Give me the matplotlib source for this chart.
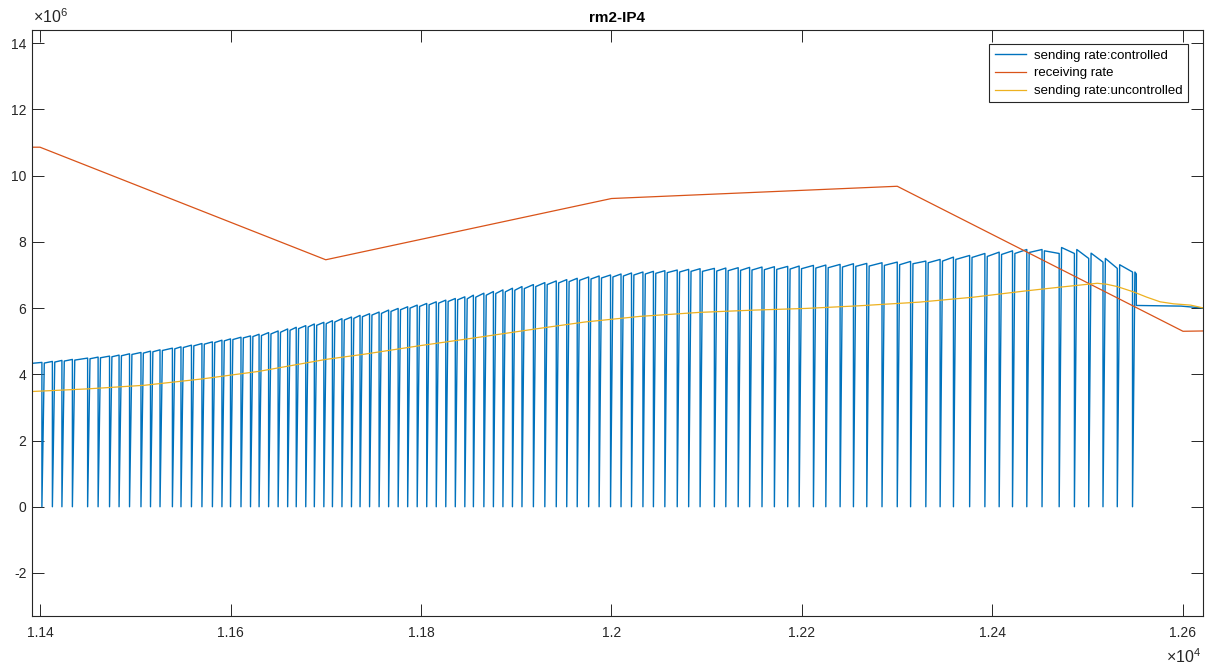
import matplotlib
matplotlib.use("Agg")
import matplotlib.pyplot as plt
from matplotlib.ticker import FixedLocator, FixedFormatter

plt.rcParams['font.family'] = ['Liberation Sans', 'DejaVu Sans']
plt.rcParams['mathtext.fontset'] = 'custom'
plt.rcParams['mathtext.rm'] = 'Liberation Sans'
plt.rcParams['axes.unicode_minus'] = False

# ---- data (time in s, rates in units of 1e6) ----
# controlled sending rate: times where the rate drops to zero
drop_t = [
    11402, 11413, 11423, 11434, 11450, 11461, 11473, 11483, 11494, 11506, 11516,
    11526, 11539, 11548, 11559, 11570, 11581, 11591, 11600, 11611, 11621, 11630,
    11640, 11650, 11660, 11669, 11679, 11688, 11698, 11707, 11717, 11727, 11736,
    11746, 11756, 11766, 11776, 11786, 11796, 11806, 11816, 11826, 11836, 11846,
    11855, 11866, 11876, 11886, 11896, 11906, 11918, 11930, 11942, 11953, 11964,
    11976, 11987, 11999, 12010, 12021, 12033, 12044, 12056, 12069, 12081, 12093,
    12108, 12120, 12133, 12145, 12158, 12171, 12185, 12197, 12212, 12225, 12240,
    12254, 12268, 12284, 12300, 12314,
    12330, 12345, 12359, 12376, 12392, 12407, 12421, 12436, 12452, 12470, 12486,
    12501, 12516, 12531, 12547,
]
# rate at the start / end of each sending period (period k ends at drop_t[k])
seg_start = [
    4.33,
    4.34, 4.37, 4.40, 4.43, 4.47, 4.50, 4.53, 4.56, 4.60, 4.64, 4.68,
    4.72, 4.77, 4.81, 4.86, 4.91, 4.96, 5.01, 5.05, 5.10, 5.14,
    5.17, 5.22, 5.27, 5.33, 5.38, 5.43, 5.48, 5.53, 5.58, 5.64, 5.69,
    5.74, 5.79, 5.84, 5.90, 5.95, 6.00, 6.05, 6.10, 6.15, 6.20, 6.25,
    6.28, 6.33, 6.39, 6.44, 6.49, 6.54, 6.59, 6.65, 6.71, 6.76, 6.80,
    6.84, 6.88, 6.91, 6.94, 6.97, 7.00, 7.03, 7.05, 7.07, 7.09, 7.11,
    7.11, 7.12, 7.13, 7.14, 7.15, 7.16, 7.17, 7.18, 7.19, 7.21, 7.22,
    7.24, 7.26, 7.27, 7.29, 7.31,
    7.34, 7.37, 7.42, 7.47, 7.53, 7.56, 7.62, 7.65, 7.68, 7.73, 7.83,
    7.77, 7.66, 7.50, 7.31,
]
seg_end = [
    4.36,
    4.39, 4.42, 4.45, 4.49, 4.52, 4.55, 4.58, 4.62, 4.66, 4.70, 4.74,
    4.79, 4.83, 4.88, 4.93, 4.98, 5.03, 5.07, 5.12, 5.16, 5.21,
    5.26, 5.31, 5.37, 5.42, 5.47, 5.52, 5.57, 5.62, 5.68, 5.73, 5.78,
    5.83, 5.88, 5.94, 5.99, 6.04, 6.09, 6.14, 6.19, 6.24, 6.29, 6.34,
    6.39, 6.45, 6.50, 6.55, 6.60, 6.65, 6.71, 6.77, 6.82, 6.86, 6.90,
    6.94, 6.97, 7.00, 7.03, 7.06, 7.09, 7.11, 7.13, 7.15, 7.17, 7.19,
    7.20, 7.21, 7.22, 7.23, 7.24, 7.25, 7.26, 7.27, 7.29, 7.30, 7.32,
    7.34, 7.35, 7.37, 7.39, 7.41,
    7.42, 7.47, 7.54, 7.59, 7.65, 7.69, 7.73, 7.77, 7.77, 7.65, 7.65,
    7.50, 7.39, 7.20, 7.09,
]
ctrl_t0 = 11391
tail_t = [12549.5, 12551, 12551, 12598, 12622]
tail_v = [7.09, 7.03, 6.08, 6.06, 6.00]
rise_w = 2.5

# receiving rate
recv_t = [11391, 11400, 11700, 12000, 12300, 12600, 12622]
recv_v = [10.86, 10.86, 7.46, 9.31, 9.68, 5.30, 5.31]

# uncontrolled sending rate
unc_t = [11391, 11450, 11510, 11570, 11630, 11700, 11741, 11800, 11861, 11920,
         11972, 12030, 12092, 12150, 12204, 12260, 12323, 12380, 12435, 12470,
         12500, 12510, 12520, 12531, 12548, 12562, 12576, 12590, 12608, 12622]
unc_v = [3.48, 3.56, 3.67, 3.86, 4.09, 4.45, 4.61, 4.87, 5.12, 5.37,
         5.58, 5.75, 5.87, 5.94, 5.99, 6.07, 6.18, 6.33, 6.52, 6.63,
         6.72, 6.75, 6.72, 6.65, 6.49, 6.33, 6.19, 6.13, 6.09, 6.00]

SCALE = 1e6
x_ticks = [11400, 11600, 11800, 12000, 12200, 12400, 12600]
x_tick_labels = ['1.14', '1.16', '1.18', '1.2', '1.22', '1.24', '1.26']
y_ticks = [-2e6, 0, 2e6, 4e6, 6e6, 8e6, 10e6, 12e6, 14e6]
y_tick_labels = ['-2', '0', '2', '4', '6', '8', '10', '12', '14']

# ---- assemble the switching trace of the controlled sender ----
cx = [ctrl_t0]
cy = [seg_start[0]]
for k, t in enumerate(drop_t):
    nxt = seg_start[k + 1] if k + 1 < len(seg_start) else tail_v[0]
    cx += [t, t, t + rise_w]
    cy += [seg_end[k], 0.0, nxt]
cx += tail_t[1:]
cy += tail_v[1:]

blue = '#0072BD'
red = '#D95319'
yellow = '#EDB120'
axcol = '#262626'

fig = plt.figure(figsize=(12.12, 6.68), dpi=100)
ax = fig.add_axes([32 / 1212, 1 - 616 / 668, 1171 / 1212, 586 / 668])

ax.plot(cx, [v * SCALE for v in cy], color=blue, lw=1.0, label='sending rate:controlled')
ax.plot(recv_t, [v * SCALE for v in recv_v], color=red, lw=0.9, label='receiving rate')
ax.plot(unc_t, [v * SCALE for v in unc_v], color=yellow, lw=0.9, label='sending rate:uncontrolled')

ax.set_xlim(11391.6, 12621)
ax.set_ylim(-3.3e6, 14.4e6)
ax.xaxis.set_major_locator(FixedLocator(x_ticks))
ax.xaxis.set_major_formatter(FixedFormatter(x_tick_labels))
ax.yaxis.set_major_locator(FixedLocator(y_ticks))
ax.yaxis.set_major_formatter(FixedFormatter(y_tick_labels))

ax.tick_params(direction='in', length=8.5, width=0.7, colors=axcol,
               labelsize=10, top=True, right=True)
ax.tick_params(axis='y', pad=4)
ax.tick_params(axis='x', pad=7)
for s in ax.spines.values():
    s.set_color(axcol)
    s.set_linewidth(0.8)

# axis exponent markers
fig.text(33 / 1212, 1 - 23 / 668, r'$\times10^{6}$', fontsize=11.5, color=axcol,
         ha='left', va='baseline')
fig.text(1201 / 1212, 1 - 663 / 668, r'$\times10^{4}$', fontsize=11.5, color=axcol,
         ha='right', va='baseline')

ax.set_title('rm2-IP4', fontsize=11, fontweight='bold', color='black', pad=6)

leg = ax.legend(loc='upper right', bbox_to_anchor=(0.9872, 0.976), borderaxespad=0,
                fontsize=9.5, fancybox=False, framealpha=1, edgecolor=axcol,
                handlelength=2.4, labelspacing=0.42, borderpad=0.4,
                handletextpad=0.6)
leg.get_frame().set_linewidth(0.8)

fig.savefig('out.png', dpi=100)
